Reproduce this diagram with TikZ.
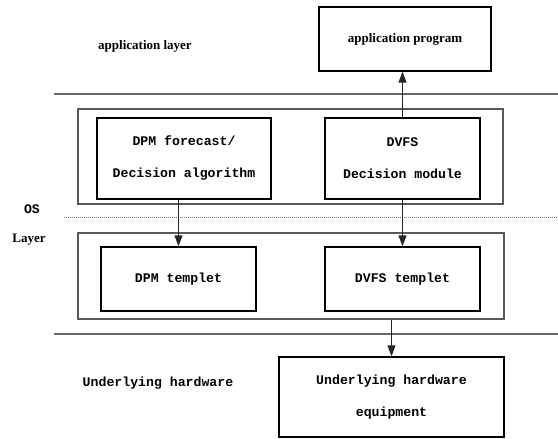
\documentclass[tikz,border=0pt]{standalone}
\usepackage{fontspec}
\newfontfamily\serifb{Liberation Serif}
\newfontfamily\monob{Liberation Mono}
\usetikzlibrary{arrows.meta}
\begin{document}
\begin{tikzpicture}[x=1pt,y=-1pt,
  box/.style={draw=black, line width=1.4pt, inner sep=0pt, align=center},
  frame/.style={draw=black!65, line width=1.2pt, inner sep=0pt},
  sep/.style={draw=black!60, line width=1.3pt},
  dots/.style={draw=black!55, line width=1pt, dash pattern=on 1pt off 1pt},
  mono/.style={font=\monob\bfseries\fontsize{13.2}{32}\selectfont},
  serif/.style={font=\serifb\bfseries\fontsize{13}{16}\selectfont},
  arr/.style={draw=black!85, line width=1pt, -{Triangle[length=11pt,width=8pt]}}
]
\useasboundingbox (0,0) rectangle (558,439);
% separators
\coordinate (s1a) at (54,94);  \coordinate (s1b) at (558,94);
\coordinate (s2a) at (64,217); \coordinate (s2b) at (558,217);
\coordinate (s3a) at (54,334); \coordinate (s3b) at (558,334);
\draw[sep] (s1a) -- (s1b);
\draw[dots] (s2a) -- (s2b);
\draw[sep] (s3a) -- (s3b);
% containers
\node[frame, minimum width=425pt, minimum height=95pt] (upper) at (290.5,156.5) {};
\node[frame, minimum width=426pt, minimum height=86pt] (lower) at (291,276) {};
% boxes
\node[box, serif, minimum width=172pt, minimum height=64pt] (app) at (405,39) {application program};
\node[box, mono, minimum width=174pt, minimum height=81pt] (dpmf) at (184,158.5) {DPM forecast/\\Decision algorithm};
\node[box, mono, minimum width=155pt, minimum height=81pt] (dvfsd) at (402.5,158.5) {DVFS\\Decision module};
\node[box, mono, minimum width=155pt, minimum height=64pt] (dpmt) at (178.5,279) {DPM templet};
\node[box, mono, minimum width=155pt, minimum height=64pt] (dvfst) at (402.5,279) {DVFS templet};
\node[box, mono, minimum width=225pt, minimum height=80pt] (hw) at (391.5,397) {Underlying hardware\\equipment};
% labels
\node[serif] (applayer) at (145,46) {application layer};
\node[mono] (os) at (32,209) {OS};
\node[serif] (layer) at (29,240) {Layer};
\node[mono] (hwl) at (158,383) {Underlying hardware};
% arrows
\draw[arr] (dvfsd.north) -- (dvfsd.north |- app.south);
\draw[arr] (dpmf.south -| dpmt.north) -- (dpmt.north);
\draw[arr] (dvfsd.south) -- (dvfst.north);
\draw[arr] (lower.south -| hw.north) -- (hw.north);
\end{tikzpicture}
\end{document}
